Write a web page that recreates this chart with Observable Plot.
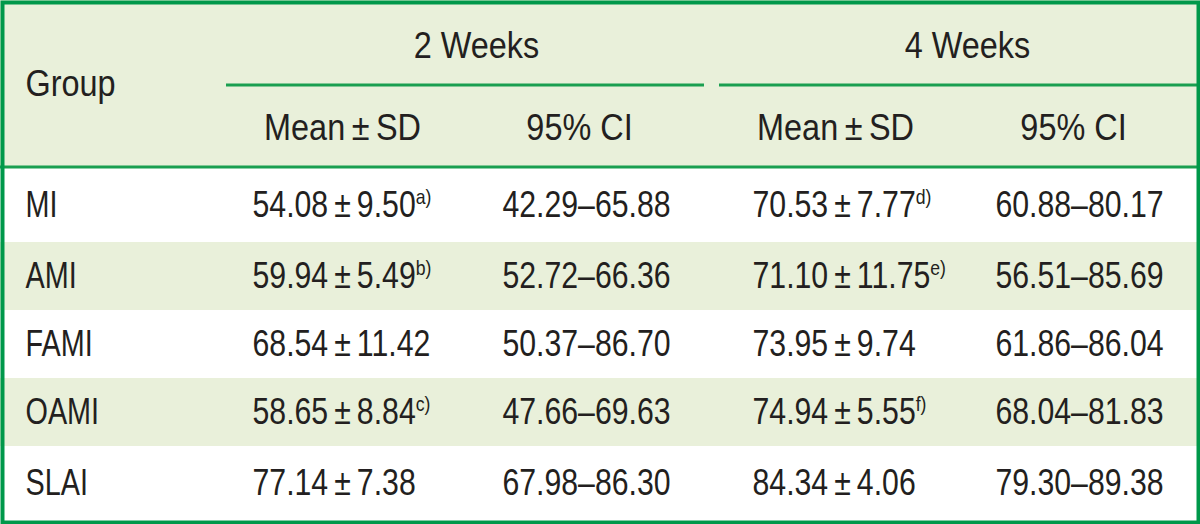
<!DOCTYPE html>
<html>
<head>
<meta charset="utf-8">
<script src="https://cdn.jsdelivr.net/npm/d3@7"></script>
<script src="https://cdn.jsdelivr.net/npm/@observablehq/plot@0.6"></script>
<style>
  html, body { margin: 0; padding: 0; background: #ffffff; }
  #chart svg { display: block; }
</style>
</head>
<body>
<div id="chart"></div>
<script>
// ---- Data ----
const groups = ["MI", "AMI", "FAMI", "OAMI", "SLAI"];
const periods = ["2 Weeks", "4 Weeks"];
const subHeaders = ["Mean\u2009±\u2009SD", "95% CI", "Mean\u2009±\u2009SD", "95% CI"];
const mean2w = ["54.08", "59.94", "68.54", "58.65", "77.14"];
const sd2w = ["9.50", "5.49", "11.42", "8.84", "7.38"];
const note2w = ["a)", "b)", "", "c)", ""];
const ci2w = ["42.29–65.88", "52.72–66.36", "50.37–86.70", "47.66–69.63", "67.98–86.30"];
const mean4w = ["70.53", "71.10", "73.95", "74.94", "84.34"];
const sd4w = ["7.77", "11.75", "9.74", "5.55", "4.06"];
const note4w = ["d)", "e)", "", "f)", ""];
const ci4w = ["60.88–80.17", "56.51–85.69", "61.86–86.04", "68.04–81.83", "79.30–89.38"];

// ---- Layout (styles / positions, not data) ----
const W = 1200, H = 524;
const FONT = "'Liberation Sans', Arial, sans-serif";
const FS = 36;
const GREEN = "#00984a";
const LINE = "#1a9f50";
const TINT = "#e9f0da";
const INK = "#231f20";
const rowEdges = [168, 242, 310, 378, 446, 520];
const headerBottom = 166.5, subLineY = 84.5;
const periodSpans = [[226, 704], [719, W]];
const periodX = [476, 967];
const periodY = 46;
const subX = [342, 579, 835, 1073];
const subY = 128;
const groupX = 25;
const meanX = [252, 752];
const ciX = [586, 1079];
// horizontal condensing factors (the reference uses a condensed face)
const SQ_HEAD = 0.9, SQ_GROUP = 0.8, SQ_VALUE = 0.84;

// ---- Tables built from the arrays ----
const rows = groups.map((g, i) => ({
  group: g,
  y1: rowEdges[i], y2: rowEdges[i + 1], ym: (rowEdges[i] + rowEdges[i + 1]) / 2,
  fill: i % 2 ? TINT : "#ffffff",
  m2: mean2w[i] + "\u2009±\u2009" + sd2w[i] + (note2w[i] ? "^" + note2w[i] : ""),
  c2: ci2w[i],
  m4: mean4w[i] + "\u2009±\u2009" + sd4w[i] + (note4w[i] ? "^" + note4w[i] : ""),
  c4: ci4w[i]
}));
const periodRows = periods.map((p, i) => ({p, x: periodX[i], x1: periodSpans[i][0], x2: periodSpans[i][1]}));
const subRows = subHeaders.map((s, i) => ({s, x: subX[i]}));

const textOpts = {fontFamily: FONT, fontSize: FS, fill: INK};

const plot = Plot.plot({
  width: W,
  height: H,
  margin: 0,
  x: {domain: [0, W], range: [0, W], axis: null},
  y: {domain: [0, H], range: [0, H], axis: null},
  marks: [
    Plot.rect([{}], {x1: 0, x2: W, y1: 0, y2: headerBottom, fill: TINT}),
    Plot.rect(rows, {x1: 0, x2: W, y1: "y1", y2: "y2", fill: "fill"}),
    Plot.ruleY([headerBottom], {x1: 0, x2: W, stroke: LINE, strokeWidth: 3}),
    Plot.ruleY(periodRows, {y: () => subLineY, x1: "x1", x2: "x2", stroke: LINE, strokeWidth: 3}),
    Plot.text(["Group"], {x: () => groupX, y: () => 84, text: d => d, textAnchor: "start", ...textOpts}),
    Plot.text(periodRows, {x: "x", y: () => periodY, text: "p", ...textOpts}),
    Plot.text(subRows, {x: "x", y: () => subY, text: "s", ...textOpts}),
    Plot.text(rows, {x: () => groupX, y: "ym", text: "group", textAnchor: "start", ...textOpts}),
    Plot.text(rows, {x: () => meanX[0], y: "ym", text: "m2", textAnchor: "start", ...textOpts}),
    Plot.text(rows, {x: () => ciX[0], y: "ym", text: "c2", ...textOpts}),
    Plot.text(rows, {x: () => meanX[1], y: "ym", text: "m4", textAnchor: "start", ...textOpts}),
    Plot.text(rows, {x: () => ciX[1], y: "ym", text: "c4", ...textOpts}),
    Plot.frame({stroke: GREEN, strokeWidth: 4, inset: 2})
  ]
});

document.getElementById("chart").appendChild(plot);

// superscript notes: split "value^note" into a raised, smaller tspan
d3.select(plot).selectAll("text").each(function () {
  const t = this.textContent;
  const k = t.indexOf("^");
  if (k < 0) return;
  this.textContent = t.slice(0, k);
  d3.select(this).append("tspan")
    .attr("font-size", 21)
    .attr("dy", -13)
    .text(t.slice(k + 1));
});

// condense glyphs horizontally to mimic the condensed typeface
const headerSet = new Set(["Group", ...periods, ...subHeaders]);
const groupSet = new Set(groups);
d3.select(plot).selectAll("text").each(function () {
  const t = this.textContent;
  const f = headerSet.has(t) ? SQ_HEAD : groupSet.has(t) ? SQ_GROUP : SQ_VALUE;
  const len = this.getComputedTextLength();
  this.setAttribute("textLength", (len * f).toFixed(1));
  this.setAttribute("lengthAdjust", "spacingAndGlyphs");
});
</script>
</body>
</html>
